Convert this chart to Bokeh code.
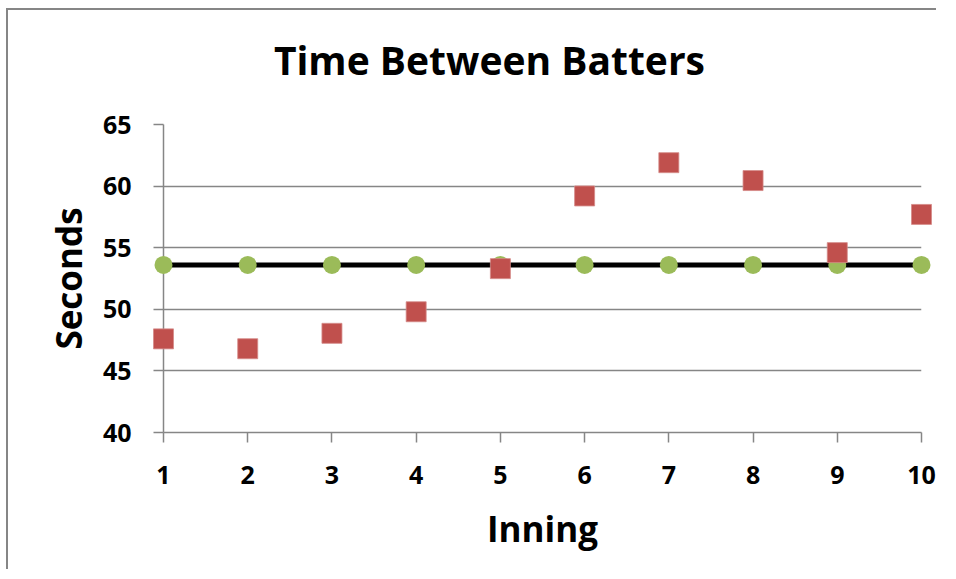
from bokeh.plotting import figure
from bokeh.models import Range1d, FixedTicker
from bokeh.core.properties import value
from bokeh.embed import file_html
from bokeh.resources import INLINE

# Data
innings = [1, 2, 3, 4, 5, 6, 7, 8, 9, 10]
seconds = [47.6, 46.8, 48.05, 49.8, 53.3, 59.2, 61.9, 60.45, 54.6, 57.7]
average = [53.6] * 10
y_ticks = [40, 45, 50, 55, 60, 65]
title_text = "Time Between Batters"

FONT = "Open Sans"
GRAY = "#868686"

p = figure(width=930, height=561, output_backend="svg", toolbar_location=None,
           x_range=Range1d(1, 10), y_range=Range1d(40, 65),
           min_border_left=155, min_border_top=114, min_border_right=17,
           min_border_bottom=139)
p.styles = {"box-shadow": "-2px -2px 0px 0px #868686",
            "margin-left": "8px", "margin-top": "10px"}
p.title.visible = False

# Chart title, centred over the whole chart area, drawn as unclipped text
p.text(x=[4.87], y=[70.3], text=[title_text], text_font=value(FONT),
       text_font_size="39px", text_font_style="bold", text_color="black",
       text_align="center", text_baseline="alphabetic", level="overlay")

p.outline_line_color = None
p.xgrid.visible = False
p.ygrid.grid_line_color = GRAY
p.ygrid.grid_line_width = 1.5
p.ygrid.ticker = FixedTicker(ticks=y_ticks)

for ax in (p.xaxis[0], p.yaxis[0]):
    ax.axis_line_color = GRAY
    ax.axis_line_width = 1.5
    ax.major_tick_line_color = GRAY
    ax.major_tick_line_width = 1.5
    ax.major_tick_in = 0
    ax.major_tick_out = 10
    ax.minor_tick_line_color = None
    ax.major_label_text_font = FONT
    ax.major_label_text_font_size = "25px"
    ax.major_label_text_font_style = "bold"
    ax.major_label_text_color = "black"
    ax.axis_label_text_font = FONT
    ax.axis_label_text_font_size = "35px"
    ax.axis_label_text_font_style = "bold"
    ax.axis_label_text_color = "black"

p.xaxis.ticker = FixedTicker(ticks=innings)
p.yaxis.ticker = FixedTicker(ticks=y_ticks)
p.xaxis.axis_label = "Inning"
p.yaxis.axis_label = "Seconds"
p.xaxis.major_label_standoff = 23
p.yaxis.major_label_standoff = 22
p.xaxis.axis_label_standoff = 18
p.yaxis.axis_label_standoff = 8

p.line(innings, average, line_color="black", line_width=5, level="overlay")
p.scatter(innings, average, marker="circle", size=18, fill_color="#9BBB59",
          line_color=None, level="overlay")
p.scatter(innings, seconds, marker="square", size=20, fill_color="#C0504D",
          line_color="#D48A88", line_width=0.8, level="overlay")

open("out.html", "w").write(file_html(p, INLINE))
